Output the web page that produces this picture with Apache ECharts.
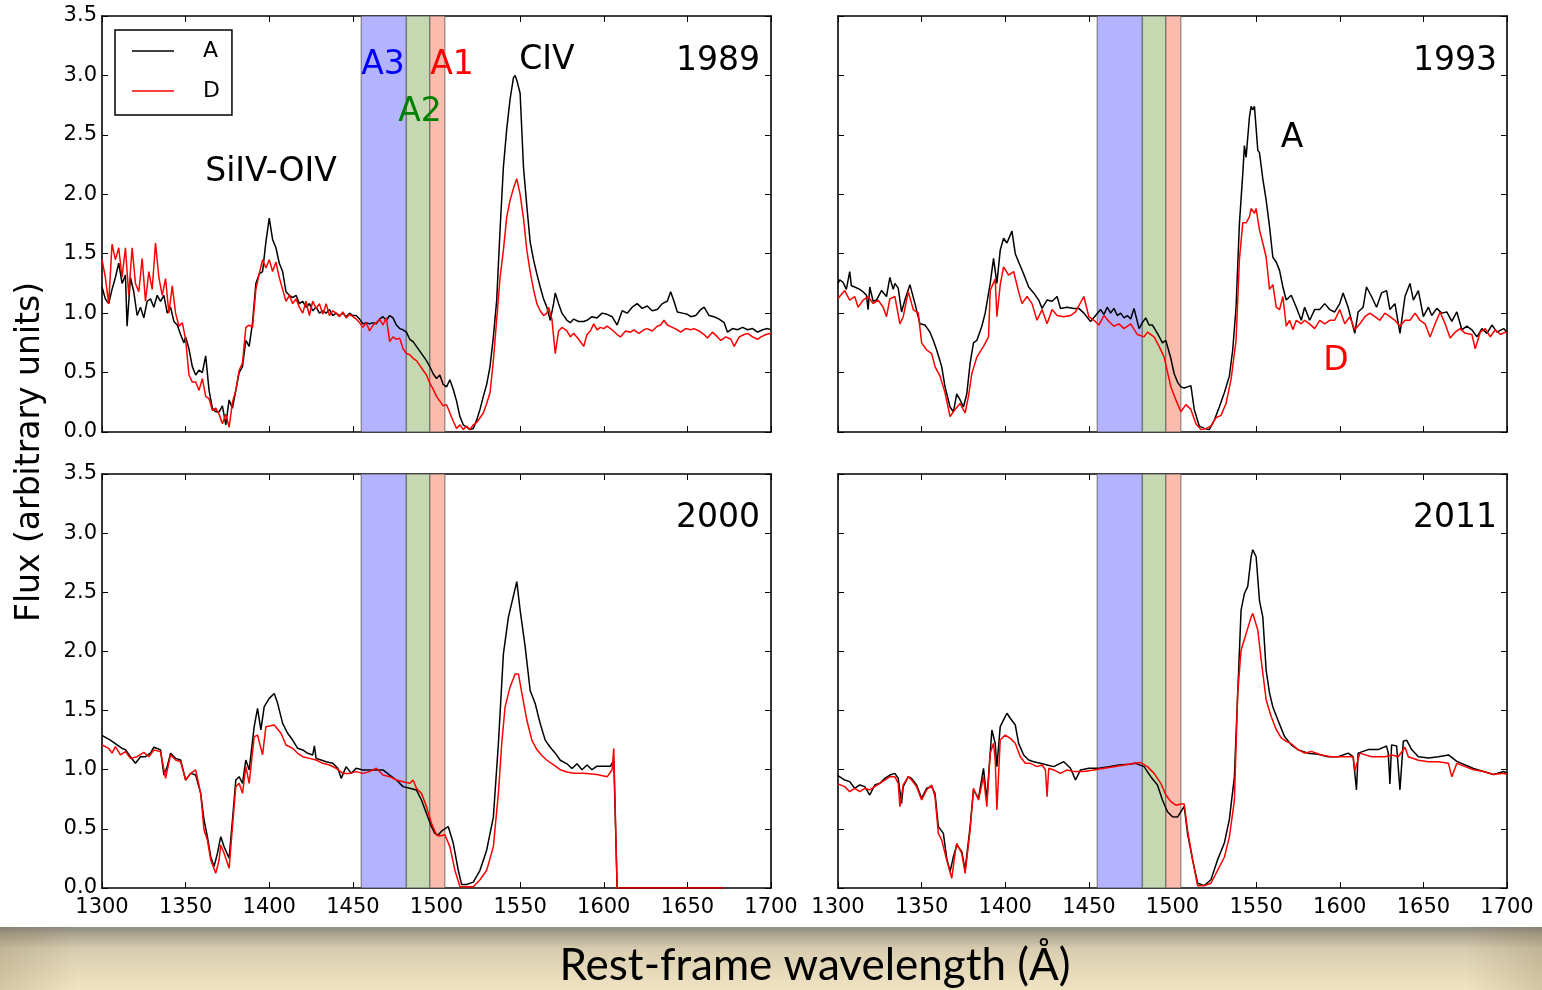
<!DOCTYPE html>
<html>
<head>
<meta charset="utf-8">
<title>CIV absorption variability</title>
<script src="https://cdn.jsdelivr.net/npm/echarts@6/dist/echarts.min.js"></script>
<style>
  html, body { margin: 0; padding: 0; background: #ffffff; }
  #chart { width: 1542px; height: 990px; }
</style>
</head>
<body>
<div id="chart"></div>
<script>
// Epochs shown, one panel each (row-major order)
const epochs = ['1989', '1993', '2000', '2011'];

// Wavelength ticks (Angstrom) and flux ticks
const xTickValues = [1300, 1350, 1400, 1450, 1500, 1550, 1600, 1650, 1700];
const yTickValues = [0.0, 0.5, 1.0, 1.5, 2.0, 2.5, 3.0, 3.5];

// Absorption windows A3, A2, A1 (Angstrom edges)
const bandNames = ['A3', 'A2', 'A1'];
const bandEdges = [1455, 1482, 1496, 1505];

// Spectra: [rest wavelength (A), flux]
const spec1989A = [[1300,1.22],[1302,1.12],[1304,1.08],[1306,1.2],[1308,1.3],[1310,1.42],[1312,1.25],[1314,1.32],[1315,0.89],[1317,1.3],[1319,1.18],[1321,0.98],[1323,1.05],[1325,0.96],[1327,1.1],[1329,1.12],[1331,1.05],[1333,1.15],[1335,1.1],[1337,1.15],[1339,1.0],[1341,1.05],[1343,0.93],[1345,0.9],[1347,0.82],[1349,0.75],[1350,0.8],[1352,0.7],[1354,0.55],[1356,0.48],[1358,0.52],[1360,0.5],[1362,0.64],[1364,0.35],[1366,0.2],[1368,0.17],[1370,0.17],[1372,0.22],[1374,0.06],[1376,0.27],[1378,0.2],[1380,0.35],[1382,0.5],[1384,0.55],[1386,0.77],[1388,0.72],[1390,0.92],[1392,1.25],[1394,1.33],[1396,1.35],[1398,1.6],[1400,1.8],[1402,1.62],[1404,1.55],[1406,1.42],[1408,1.35],[1410,1.18],[1412,1.15],[1414,1.13],[1416,1.15],[1418,1.08],[1420,1.1],[1422,1.05],[1424,1.08],[1426,1.02],[1428,1.05],[1430,1.0],[1432,1.02],[1434,1.0],[1436,1.03],[1438,0.98],[1440,1.0],[1442,0.98],[1444,1.0],[1446,0.97],[1448,1.0],[1450,0.98],[1452,0.98],[1454,0.95],[1456,0.91],[1458,0.92],[1460,0.91],[1462,0.92],[1464,0.91],[1466,0.95],[1468,0.97],[1470,0.94],[1472,0.98],[1474,0.96],[1476,0.9],[1478,0.87],[1480,0.86],[1482,0.84],[1484,0.78],[1486,0.76],[1488,0.72],[1490,0.68],[1492,0.64],[1494,0.6],[1496,0.55],[1498,0.49],[1500,0.45],[1502,0.48],[1504,0.4],[1506,0.38],[1508,0.44],[1510,0.36],[1512,0.26],[1514,0.13],[1516,0.06],[1518,0.04],[1520,0.02],[1522,0.03],[1524,0.1],[1526,0.19],[1528,0.3],[1530,0.4],[1532,0.55],[1534,0.8],[1536,1.11],[1538,1.7],[1540,2.23],[1542,2.55],[1544,2.8],[1546,2.98],[1547,3.0],[1548,2.96],[1550,2.85],[1552,2.23],[1554,1.9],[1556,1.6],[1558,1.45],[1560,1.33],[1562,1.22],[1564,1.12],[1566,1.05],[1568,0.94],[1570,1.08],[1571,1.17],[1573,1.08],[1575,1.0],[1578,0.94],[1580,0.92],[1582,0.95],[1585,0.93],[1588,0.93],[1590,0.94],[1593,0.97],[1596,0.96],[1599,1.0],[1602,0.99],[1605,0.97],[1608,0.9],[1611,1.02],[1614,1.0],[1617,1.05],[1620,1.08],[1623,1.04],[1626,1.06],[1629,1.02],[1632,1.03],[1635,1.08],[1638,1.1],[1640,1.18],[1642,1.1],[1644,1.01],[1647,1.0],[1650,0.99],[1652,0.97],[1655,0.98],[1658,1.03],[1660,1.05],[1663,0.98],[1666,0.97],[1669,0.95],[1672,0.92],[1674,0.84],[1677,0.87],[1680,0.86],[1683,0.88],[1686,0.86],[1689,0.87],[1692,0.84],[1695,0.86],[1698,0.87],[1700,0.86]];

const spec1989D = [[1300,1.45],[1302,1.3],[1304,1.08],[1306,1.58],[1308,1.45],[1310,1.55],[1312,1.3],[1314,1.55],[1316,1.15],[1318,1.55],[1320,1.25],[1322,1.18],[1324,1.46],[1326,1.1],[1328,1.35],[1330,1.2],[1332,1.59],[1334,1.3],[1336,1.15],[1338,1.29],[1340,1.0],[1342,1.23],[1344,1.0],[1346,0.89],[1348,0.92],[1350,0.78],[1352,0.48],[1354,0.42],[1356,0.42],[1358,0.35],[1360,0.45],[1362,0.3],[1364,0.28],[1366,0.18],[1368,0.2],[1370,0.15],[1372,0.07],[1374,0.15],[1376,0.04],[1378,0.25],[1380,0.35],[1382,0.52],[1384,0.58],[1386,0.88],[1388,0.9],[1390,0.88],[1392,1.2],[1394,1.33],[1396,1.45],[1398,1.38],[1400,1.45],[1402,1.35],[1404,1.43],[1406,1.3],[1408,1.2],[1410,1.1],[1412,1.15],[1414,1.08],[1416,1.12],[1418,1.05],[1420,1.0],[1422,1.1],[1424,0.98],[1426,1.1],[1428,1.04],[1430,1.08],[1432,0.99],[1434,1.08],[1436,0.98],[1438,1.02],[1440,1.0],[1442,0.97],[1444,1.01],[1446,0.96],[1448,0.99],[1450,0.97],[1452,0.95],[1454,0.92],[1456,0.88],[1458,0.92],[1460,0.85],[1462,0.9],[1464,0.92],[1466,0.95],[1468,0.9],[1470,0.96],[1472,0.76],[1474,0.8],[1476,0.78],[1478,0.79],[1480,0.7],[1482,0.66],[1484,0.65],[1486,0.62],[1488,0.6],[1490,0.56],[1492,0.52],[1494,0.48],[1496,0.41],[1498,0.36],[1500,0.3],[1502,0.26],[1504,0.22],[1506,0.23],[1508,0.16],[1510,0.09],[1512,0.03],[1514,0.06],[1516,0.02],[1518,0.05],[1520,0.02],[1522,0.06],[1524,0.08],[1526,0.12],[1528,0.16],[1530,0.24],[1532,0.33],[1534,0.6],[1536,0.95],[1538,1.3],[1540,1.53],[1542,1.81],[1544,1.95],[1546,2.05],[1548,2.13],[1550,2.0],[1552,1.8],[1554,1.53],[1556,1.35],[1558,1.2],[1560,1.08],[1562,1.02],[1564,0.98],[1566,1.0],[1567,1.05],[1569,0.95],[1571,0.66],[1573,0.85],[1575,0.88],[1578,0.85],[1580,0.8],[1582,0.83],[1585,0.78],[1588,0.72],[1590,0.82],[1592,0.85],[1594,0.91],[1596,0.86],[1598,0.88],[1600,0.87],[1602,0.89],[1605,0.86],[1608,0.82],[1610,0.8],[1613,0.85],[1616,0.84],[1618,0.86],[1621,0.83],[1624,0.86],[1626,0.87],[1629,0.85],[1632,0.89],[1634,0.9],[1636,0.94],[1638,0.9],[1641,0.88],[1644,0.86],[1646,0.84],[1649,0.87],[1652,0.86],[1654,0.87],[1657,0.85],[1660,0.82],[1662,0.79],[1665,0.84],[1668,0.8],[1670,0.77],[1673,0.8],[1676,0.78],[1678,0.72],[1681,0.8],[1684,0.82],[1686,0.83],[1689,0.8],[1692,0.78],[1694,0.8],[1697,0.82],[1700,0.83]];

const spec1993A = [[1300,1.25],[1301,1.28],[1303,1.26],[1305,1.2],[1307,1.35],[1308,1.23],[1310,1.22],[1311,1.21],[1313,1.2],[1315,1.18],[1317,1.15],[1318,1.03],[1319,1.22],[1321,1.1],[1323,1.11],[1326,1.19],[1329,1.14],[1331,1.3],[1333,1.2],[1334,1.25],[1336,1.21],[1338,1.01],[1340,1.11],[1343,1.24],[1346,1.08],[1349,0.91],[1352,0.9],[1355,0.84],[1357,0.77],[1359,0.69],[1362,0.55],[1364,0.38],[1367,0.21],[1369,0.17],[1371,0.32],[1373,0.27],[1375,0.21],[1377,0.32],[1379,0.58],[1381,0.75],[1383,0.77],[1386,0.89],[1388,1.0],[1391,1.25],[1393,1.46],[1395,1.25],[1397,1.53],[1399,1.63],[1401,1.59],[1404,1.69],[1406,1.5],[1408,1.43],[1411,1.33],[1414,1.22],[1417,1.17],[1420,1.11],[1422,1.04],[1425,1.11],[1428,1.1],[1431,1.14],[1433,1.04],[1437,1.05],[1441,1.04],[1444,1.04],[1447,1.0],[1451,0.93],[1454,0.98],[1457,1.03],[1459,0.99],[1461,1.05],[1463,1.0],[1465,1.04],[1467,0.98],[1469,1.0],[1471,0.96],[1473,0.98],[1475,0.95],[1477,1.04],[1480,0.87],[1482,0.92],[1484,0.96],[1486,0.9],[1488,0.9],[1491,0.83],[1494,0.75],[1496,0.77],[1499,0.62],[1501,0.49],[1503,0.42],[1505,0.38],[1507,0.37],[1509,0.38],[1511,0.39],[1513,0.19],[1516,0.05],[1519,0.03],[1522,0.02],[1525,0.1],[1528,0.21],[1531,0.33],[1534,0.47],[1536,0.69],[1538,1.05],[1540,1.75],[1542,2.17],[1543,2.41],[1544,2.31],[1546,2.65],[1547,2.74],[1548,2.71],[1549,2.74],[1551,2.37],[1552,2.35],[1554,2.13],[1556,1.95],[1558,1.73],[1560,1.47],[1562,1.43],[1564,1.36],[1566,1.22],[1568,1.11],[1571,1.15],[1574,1.05],[1577,0.94],[1579,1.05],[1582,0.94],[1585,1.03],[1588,1.03],[1591,1.08],[1594,1.03],[1597,1.01],[1600,1.08],[1602,1.17],[1605,1.05],[1609,0.83],[1611,1.01],[1614,1.05],[1616,1.22],[1619,1.14],[1622,1.05],[1625,1.17],[1628,1.19],[1630,1.03],[1633,1.08],[1636,0.83],[1639,1.14],[1642,1.25],[1644,1.11],[1647,1.19],[1650,0.97],[1653,1.05],[1655,0.98],[1658,1.04],[1661,1.0],[1664,1.01],[1667,0.93],[1670,1.01],[1673,0.86],[1676,0.89],[1679,0.86],[1682,0.8],[1685,0.87],[1688,0.83],[1691,0.9],[1694,0.84],[1698,0.87],[1700,0.84]];

const spec1993D = [[1300,1.12],[1301,1.14],[1304,1.19],[1307,1.11],[1310,1.14],[1312,1.05],[1315,1.11],[1318,1.14],[1321,1.08],[1324,1.11],[1327,1.05],[1329,0.97],[1331,1.12],[1334,1.14],[1337,0.91],[1339,0.97],[1342,1.18],[1345,1.03],[1348,1.0],[1350,0.75],[1353,0.69],[1356,0.66],[1358,0.55],[1361,0.47],[1364,0.33],[1367,0.13],[1370,0.19],[1373,0.24],[1376,0.16],[1378,0.3],[1380,0.49],[1383,0.63],[1387,0.72],[1390,0.8],[1391,1.19],[1394,1.29],[1395,0.97],[1397,1.24],[1399,1.39],[1402,1.32],[1405,1.35],[1408,1.18],[1410,1.08],[1413,1.14],[1416,1.08],[1419,0.94],[1422,1.03],[1425,0.91],[1428,1.03],[1431,0.98],[1435,0.97],[1439,0.98],[1442,1.01],[1447,1.14],[1450,0.97],[1453,0.94],[1456,0.9],[1459,0.98],[1462,0.93],[1465,0.89],[1468,0.91],[1471,0.87],[1475,0.91],[1479,0.82],[1483,0.8],[1485,0.84],[1489,0.8],[1492,0.72],[1495,0.63],[1499,0.38],[1502,0.27],[1505,0.17],[1508,0.23],[1511,0.19],[1514,0.07],[1517,0.02],[1520,0.03],[1523,0.05],[1526,0.12],[1529,0.14],[1532,0.24],[1535,0.44],[1538,0.77],[1540,1.45],[1542,1.76],[1544,1.76],[1546,1.81],[1547,1.88],[1549,1.84],[1550,1.88],[1552,1.7],[1554,1.59],[1556,1.47],[1558,1.2],[1560,1.24],[1562,1.05],[1564,1.03],[1566,1.14],[1568,0.89],[1570,0.94],[1572,0.86],[1574,0.94],[1577,0.91],[1579,0.94],[1582,0.91],[1585,0.87],[1588,0.94],[1591,0.91],[1594,0.94],[1597,0.94],[1600,1.03],[1603,0.91],[1606,0.97],[1609,0.86],[1612,0.91],[1615,0.97],[1618,1.0],[1621,0.97],[1624,0.94],[1627,1.0],[1630,0.97],[1633,0.94],[1636,0.89],[1639,0.94],[1642,0.94],[1645,1.0],[1648,0.94],[1651,0.91],[1654,0.8],[1657,0.91],[1660,1.01],[1663,0.91],[1666,0.79],[1669,0.84],[1672,0.87],[1675,0.83],[1679,0.82],[1681,0.7],[1684,0.84],[1687,0.87],[1690,0.8],[1693,0.86],[1696,0.82],[1699,0.84],[1700,0.83]];

const spec2000A = [[1300,1.29],[1301,1.285],[1305,1.25],[1309,1.21],[1312,1.18],[1314,1.17],[1317,1.11],[1320,1.054],[1323,1.11],[1326,1.11],[1329,1.14],[1331,1.19],[1333,1.18],[1335,1.167],[1337,0.955],[1339,1.026],[1341,1.14],[1344,1.096],[1347,1.082],[1350,0.913],[1353,0.969],[1356,0.955],[1359,0.8],[1361,0.575],[1363,0.434],[1365,0.265],[1367,0.181],[1369,0.293],[1371,0.434],[1373,0.349],[1376,0.251],[1378,0.575],[1380,0.913],[1382,0.941],[1384,0.885],[1386,1.082],[1388,0.998],[1391,1.364],[1393,1.519],[1395,1.336],[1397,1.533],[1400,1.603],[1403,1.645],[1405,1.561],[1408,1.392],[1411,1.308],[1414,1.251],[1417,1.181],[1420,1.167],[1423,1.139],[1426,1.125],[1427,1.201],[1428,1.096],[1431,1.082],[1434,1.068],[1438,1.054],[1441,1.012],[1443,0.927],[1446,1.026],[1449,0.969],[1452,1.012],[1456,0.998],[1460,0.998],[1464,0.998],[1468,0.998],[1472,0.955],[1476,0.913],[1480,0.857],[1484,0.843],[1488,0.829],[1491,0.744],[1494,0.631],[1497,0.519],[1499,0.462],[1501,0.448],[1503,0.48],[1507,0.52],[1510,0.38],[1513,0.15],[1515,0.03],[1518,0.03],[1522,0.05],[1526,0.15],[1530,0.32],[1534,0.6],[1537,1.22],[1540,1.98],[1543,2.29],[1545,2.41],[1548,2.59],[1550,2.35],[1553,2.04],[1556,1.67],[1559,1.56],[1562,1.39],[1565,1.25],[1568,1.19],[1571,1.14],[1574,1.08],[1578,1.05],[1581,1.01],[1584,1.05],[1587,1.0],[1590,1.04],[1593,1.0],[1596,1.03],[1600,1.03],[1604,1.03],[1606,1.08],[1608,0],[1672,0]];

const spec2000D = [[1300,1.21],[1301,1.2],[1304,1.18],[1306,1.14],[1308,1.195],[1311,1.125],[1314,1.153],[1317,1.096],[1321,1.11],[1325,1.146],[1328,1.11],[1331,1.167],[1335,1.153],[1338,0.927],[1341,1.125],[1344,1.082],[1347,1.068],[1350,0.913],[1353,0.969],[1356,0.998],[1359,0.8],[1361,0.49],[1363,0.406],[1365,0.237],[1368,0.124],[1370,0.237],[1371,0.364],[1373,0.293],[1376,0.166],[1378,0.519],[1380,0.857],[1382,0.885],[1384,0.8],[1386,1.026],[1388,0.885],[1391,1.279],[1393,1.293],[1396,1.125],[1398,1.364],[1403,1.378],[1407,1.308],[1410,1.209],[1414,1.181],[1417,1.139],[1420,1.11],[1424,1.096],[1428,1.082],[1432,1.054],[1436,1.04],[1440,1.012],[1444,0.969],[1448,0.969],[1452,0.984],[1456,0.969],[1460,0.984],[1464,1.012],[1468,0.955],[1472,0.941],[1476,0.913],[1480,0.899],[1484,0.885],[1486,0.913],[1488,0.843],[1491,0.8],[1494,0.688],[1497,0.547],[1500,0.448],[1502,0.44],[1505,0.45],[1508,0.35],[1511,0.15],[1514,0.01],[1518,0.01],[1522,0.01],[1526,0.07],[1530,0.15],[1534,0.35],[1537,0.8],[1539,1.22],[1541,1.53],[1544,1.7],[1547,1.81],[1549,1.81],[1551,1.65],[1554,1.42],[1557,1.25],[1560,1.17],[1563,1.12],[1566,1.08],[1570,1.04],[1574,1.0],[1578,0.98],[1582,0.97],[1588,0.97],[1596,0.96],[1602,0.94],[1605,1.0],[1606,1.18],[1608,0],[1672,0]];

const spec2011A = [[1300,0.95],[1301,0.941],[1304,0.913],[1307,0.899],[1310,0.843],[1313,0.871],[1316,0.857],[1319,0.786],[1322,0.871],[1325,0.885],[1328,0.927],[1331,0.955],[1334,0.969],[1336,0.927],[1338,0.716],[1339,0.857],[1342,0.941],[1344,0.927],[1347,0.871],[1350,0.758],[1353,0.843],[1356,0.857],[1358,0.8],[1360,0.519],[1363,0.462],[1365,0.251],[1367,0.139],[1369,0.265],[1371,0.364],[1374,0.307],[1376,0.153],[1379,0.519],[1381,0.829],[1384,0.758],[1387,1.012],[1389,0.744],[1392,1.336],[1394,1.223],[1395,1.026],[1397,1.364],[1399,1.421],[1401,1.477],[1403,1.435],[1406,1.378],[1408,1.223],[1411,1.124],[1414,1.082],[1417,1.068],[1421,1.054],[1425,1.04],[1429,1.026],[1435,1.068],[1439,1.012],[1442,0.913],[1445,0.998],[1450,1.012],[1456,1.012],[1462,1.026],[1468,1.04],[1474,1.046],[1478,1.054],[1483,1.026],[1487,0.941],[1491,0.871],[1494,0.744],[1497,0.645],[1500,0.603],[1503,0.6],[1507,0.69],[1509,0.46],[1512,0.24],[1515,0.04],[1519,0.02],[1523,0.07],[1527,0.24],[1531,0.38],[1534,0.58],[1537,0.94],[1539,1.65],[1541,2.35],[1543,2.49],[1545,2.55],[1547,2.8],[1548,2.86],[1550,2.8],[1552,2.43],[1554,2.29],[1556,1.84],[1558,1.65],[1560,1.53],[1563,1.42],[1567,1.28],[1571,1.21],[1575,1.17],[1581,1.14],[1587,1.13],[1593,1.11],[1599,1.11],[1605,1.14],[1608,1.11],[1610,0.83],[1611,1.14],[1617,1.17],[1623,1.17],[1628,1.2],[1629,1.14],[1630,0.88],[1631,1.21],[1634,1.2],[1636,0.83],[1638,1.24],[1640,1.25],[1643,1.17],[1647,1.11],[1653,1.1],[1659,1.11],[1665,1.125],[1670,1.07],[1675,1.04],[1680,1.01],[1686,0.985],[1692,0.96],[1698,0.985],[1700,0.97]];

const spec2011D = [[1300,0.88],[1301,0.871],[1304,0.857],[1307,0.815],[1310,0.843],[1313,0.815],[1316,0.843],[1319,0.829],[1322,0.857],[1325,0.885],[1328,0.913],[1331,0.941],[1334,0.941],[1336,0.885],[1337,0.688],[1339,0.871],[1342,0.941],[1344,0.913],[1347,0.857],[1350,0.744],[1353,0.829],[1356,0.871],[1358,0.772],[1360,0.462],[1362,0.406],[1365,0.237],[1368,0.082],[1370,0.293],[1371,0.378],[1374,0.293],[1376,0.124],[1379,0.49],[1381,0.843],[1384,0.744],[1387,0.941],[1389,0.688],[1391,1.139],[1393,1.223],[1394,1.082],[1395,0.66],[1397,1.251],[1400,1.293],[1403,1.265],[1406,1.223],[1409,1.11],[1412,1.054],[1415,1.054],[1419,1.026],[1422,1.04],[1424,1.0],[1425,0.772],[1426,1.012],[1429,0.998],[1433,0.969],[1437,0.998],[1441,0.984],[1447,0.984],[1453,0.998],[1459,1.012],[1465,1.026],[1471,1.04],[1477,1.054],[1481,1.06],[1485,1.026],[1489,0.969],[1493,0.885],[1496,0.786],[1499,0.73],[1502,0.7],[1505,0.71],[1507,0.71],[1509,0.49],[1512,0.24],[1515,0.02],[1519,0.02],[1523,0.04],[1527,0.15],[1531,0.26],[1534,0.43],[1537,0.74],[1539,1.65],[1541,2.01],[1544,2.15],[1547,2.29],[1548,2.32],[1551,2.18],[1553,1.93],[1556,1.59],[1559,1.45],[1562,1.34],[1565,1.27],[1568,1.24],[1571,1.22],[1575,1.17],[1579,1.14],[1583,1.155],[1589,1.125],[1595,1.11],[1603,1.11],[1608,1.11],[1609,0.99],[1612,1.14],[1619,1.11],[1627,1.11],[1631,1.125],[1635,1.11],[1639,1.19],[1641,1.11],[1647,1.08],[1653,1.068],[1659,1.068],[1665,1.054],[1667,0.94],[1670,1.054],[1675,1.026],[1680,1.0],[1686,0.985],[1692,0.96],[1698,0.97],[1700,0.96]];

const spectraA = [spec1989A, spec1993A, spec2000A, spec2011A];
const spectraD = [spec1989D, spec1993D, spec2000D, spec2011D];

// ---- layout & style ----
const FONT = '"DejaVu Sans", "Noto Sans", sans-serif';
const panels = [
  { left: 102, top: 16,  width: 669, height: 416, yLabels: true,  xLabels: false },
  { left: 838, top: 16,  width: 669, height: 416, yLabels: false, xLabels: false },
  { left: 102, top: 474, width: 669, height: 414, yLabels: true,  xLabels: true  },
  { left: 838, top: 474, width: 669, height: 414, yLabels: false, xLabels: true  }
];
const bandColors = ['#b3b3fe', '#c5d8b1', '#fbbcae'];
const bandTextColors = ['#0000ff', '#008000', '#ff0000'];

const tickStyle = { show: true, inside: true, length: 6, lineStyle: { color: '#000', width: 1 } };
const frameLine = { show: true, onZero: false, lineStyle: { color: '#000', width: 1.6 } };
const labelStyle = { color: '#000', fontFamily: FONT, fontSize: 21 };

const xAxes = [], yAxes = [], grids = [], series = [];
panels.forEach((p, i) => {
  grids.push({ left: p.left, top: p.top, width: p.width, height: p.height, containLabel: false });
  const xBase = { type: 'value', gridIndex: i, min: xTickValues[0], max: xTickValues[xTickValues.length - 1],
                  interval: xTickValues[1] - xTickValues[0], splitLine: { show: false },
                  axisLine: frameLine, axisTick: tickStyle };
  const yBase = { type: 'value', gridIndex: i, min: yTickValues[0], max: yTickValues[yTickValues.length - 1],
                  interval: yTickValues[1] - yTickValues[0], splitLine: { show: false },
                  axisLine: frameLine, axisTick: tickStyle };
  xAxes.push(Object.assign({}, xBase, { position: 'bottom',
    axisLabel: Object.assign({ show: p.xLabels, margin: 9, formatter: v => String(v) }, labelStyle) }));
  xAxes.push(Object.assign({}, xBase, { position: 'top', axisLabel: { show: false } }));
  yAxes.push(Object.assign({}, yBase, { position: 'left',
    axisLabel: Object.assign({ show: p.yLabels, margin: 5, formatter: v => v.toFixed(1) }, labelStyle) }));
  yAxes.push(Object.assign({}, yBase, { position: 'right', axisLabel: { show: false } }));

  const bands = bandNames.map((name, k) => [
    { xAxis: bandEdges[k], itemStyle: { color: bandColors[k], borderColor: 'rgba(70,70,70,0.55)', borderWidth: 1.3 } },
    { xAxis: bandEdges[k + 1] }
  ]);

  series.push({
    name: 'A', type: 'line', xAxisIndex: 2 * i, yAxisIndex: 2 * i,
    data: spectraA[i], symbol: 'none', showSymbol: false, animation: false,
    lineStyle: { color: '#000000', width: 1.5 }, itemStyle: { color: '#000000' },
    markArea: { silent: true, z: 1, data: bands }
  });
  series.push({
    name: 'D', type: 'line', xAxisIndex: 2 * i, yAxisIndex: 2 * i,
    data: spectraD[i], symbol: 'none', showSymbol: false, animation: false,
    lineStyle: { color: '#ff0000', width: 1.5 }, itemStyle: { color: '#ff0000' }
  });
});

function label(text, x, y, color, align) {
  return { type: 'text', z: 100, silent: true,
    style: { text: text, x: x, y: y, fill: color, font: '33px ' + FONT,
             textAlign: align || 'center', textVerticalAlign: 'middle' } };
}

const graphics = [
  // parchment strip carrying the shared x-axis title
  { type: 'rect', z: -10, silent: true, shape: { x: 0, y: 927, width: 1542, height: 63 },
    style: { fill: new echarts.graphic.LinearGradient(0, 0, 0, 1, [
      { offset: 0, color: '#8e8b82' }, { offset: 0.12, color: '#aea692' },
      { offset: 0.35, color: '#d8cdb0' }, { offset: 1, color: '#f1e4c3' }]) } },
  { type: 'rect', z: -9, silent: true, shape: { x: 0, y: 927, width: 1542, height: 63 },
    style: { fill: new echarts.graphic.LinearGradient(0, 0, 1, 0, [
      { offset: 0, color: 'rgba(110,95,60,0.22)' }, { offset: 0.05, color: 'rgba(110,95,60,0)' },
      { offset: 0.95, color: 'rgba(110,95,60,0)' }, { offset: 1, color: 'rgba(110,95,60,0.22)' }]) } },
  { type: 'text', z: 100, silent: true,
    style: { text: 'Rest-frame wavelength (Å)', x: 815, y: 966, fill: '#000',
             font: '44px Lato, "Open Sans", sans-serif', textAlign: 'center', textVerticalAlign: 'middle' } },
  { type: 'text', z: 100, silent: true, x: 30, y: 452, rotation: Math.PI / 2,
    style: { text: 'Flux (arbitrary units)', x: 0, y: 0, fill: '#000', font: '33px ' + FONT,
             textAlign: 'center', textVerticalAlign: 'middle' } },
  // panel annotations
  label(epochs[0], 760, 61, '#000', 'right'),
  label(epochs[1], 1497, 61, '#000', 'right'),
  label(epochs[2], 760, 518, '#000', 'right'),
  label(epochs[3], 1497, 518, '#000', 'right'),
  label('SiIV-OIV', 271, 172, '#000'),
  label('CIV', 547, 60, '#000'),
  label(bandNames[0], 383, 65, bandTextColors[0]),
  label(bandNames[1], 420, 112, bandTextColors[1]),
  label(bandNames[2], 452, 65, bandTextColors[2]),
  label('A', 1292, 138, '#000'),
  label('D', 1336, 361, '#ff0000')
];

const chart = echarts.init(document.getElementById('chart'), null, { renderer: 'canvas' });
chart.setOption({
  backgroundColor: '#ffffff',
  animation: false,
  grid: grids,
  xAxis: xAxes,
  yAxis: yAxes,
  legend: {
    data: [{ name: 'A', icon: 'rect' }, { name: 'D', icon: 'rect' }],
    orient: 'vertical', left: 115, top: 30,
    backgroundColor: '#ffffff', borderColor: '#000', borderWidth: 1.5, borderRadius: 0,
    padding: [8, 12, 11, 17], itemGap: 14, itemWidth: 42, itemHeight: 1.6,
    selectedMode: false,
    textStyle: { color: '#000', fontFamily: FONT, fontSize: 22, padding: [0, 0, 0, 24], lineHeight: 26 }
  },
  graphic: graphics,
  series: series
});
</script>
</body>
</html>
